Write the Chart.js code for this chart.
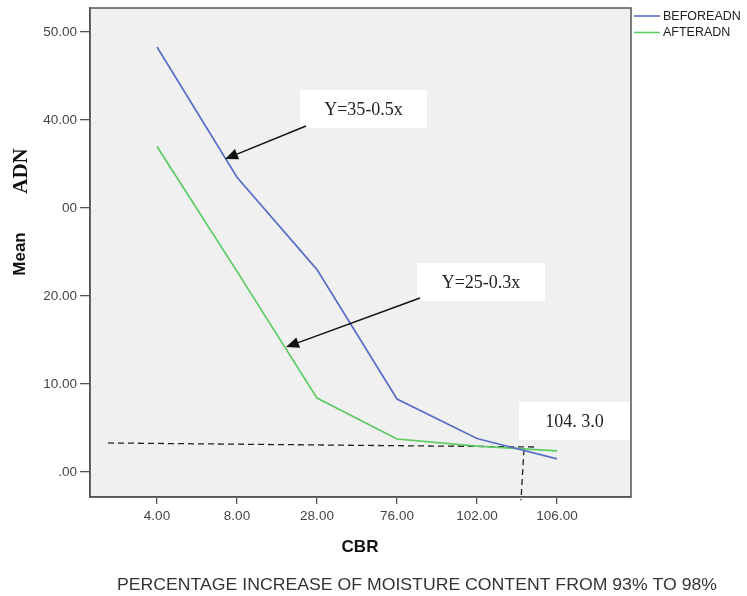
<!DOCTYPE html>
<html>
<head>
<meta charset="utf-8">
<script src="https://cdn.jsdelivr.net/npm/chart.js@4.4.1/dist/chart.umd.min.js"></script>
<style>
html,body{margin:0;padding:0;background:#fff;}
#wrap{width:747px;height:596px;position:relative;}
</style>
</head>
<body>
<div id="wrap"><canvas id="c" width="747" height="596"></canvas></div>
<script>
// ---- data ----
const categories = ['4.00', '8.00', '28.00', '76.00', '102.00', '106.00'];
const beforeADN = [48.3, 33.5, 23.0, 8.3, 3.8, 1.5];
const afterADN  = [37.0, 22.8, 8.4, 3.75, 2.95, 2.4];
const yTickValues = [0, 10, 20, 30, 40, 50];
const yTickLabels = ['.00', '10.00', '20.00', '00', '40.00', '50.00'];
// guide lines (x in category index units, y in ADN units)
const hGuideX = [-0.6125, 4.75];
const hGuideY = [3.3, 2.84];
const vGuideX = [4.5875, 4.55];
const vGuideY = [2.6, -3.2];
// annotation texts
const noteTexts = ['Y=35-0.5x', 'Y=25-0.3x', '104. 3.0'];

const xs = categories.map((_, i) => i);
const toPts = (xArr, yArr) => xArr.map((x, i) => ({x: x, y: yArr[i]}));

// annotation layout in data units
const notes = [
  {text: noteTexts[0], x1: 1.7875, x2: 3.375, y1: 43.4, y2: 39.1, ax1: 1.8625, ay1: 39.32, ax2: 0.85, ay2: 35.57},
  {text: noteTexts[1], x1: 3.25, x2: 4.85, y1: 23.75, y2: 19.43, ax1: 3.2875, ay1: 19.77, ax2: 1.6125, ay2: 14.2},
  {text: noteTexts[2], x1: 4.525, x2: 5.9125, y1: 7.95, y2: 3.64}
];

const BLUE = '#5a6ec8';
const GREEN = '#5ccb62';

function arrow(ctx, x1, y1, x2, y2) {
  ctx.save();
  ctx.strokeStyle = '#111';
  ctx.fillStyle = '#111';
  ctx.lineWidth = 1.5;
  const ang = Math.atan2(y2 - y1, x2 - x1);
  const L = 13, W = 5.5;
  const bx = x2 - L * Math.cos(ang), by = y2 - L * Math.sin(ang);
  ctx.beginPath();
  ctx.moveTo(x1, y1);
  ctx.lineTo(bx, by);
  ctx.stroke();
  ctx.beginPath();
  ctx.moveTo(x2, y2);
  ctx.lineTo(bx + W * Math.sin(ang), by - W * Math.cos(ang));
  ctx.lineTo(bx - W * Math.sin(ang), by + W * Math.cos(ang));
  ctx.closePath();
  ctx.fill();
  ctx.restore();
}

const decor = {
  id: 'decor',
  beforeDraw(chart) {
    const {ctx, chartArea: a} = chart;
    ctx.save();
    ctx.fillStyle = '#f0f0f0';
    ctx.fillRect(a.left, a.top, a.right - a.left, a.bottom - a.top);
    ctx.restore();
  },
  afterDraw(chart) {
    const {ctx, chartArea: a} = chart;
    const xS = chart.scales.x, yS = chart.scales.y;
    ctx.save();
    // frame
    ctx.strokeStyle = '#555';
    ctx.lineWidth = 1.5;
    ctx.strokeRect(a.left, a.top, a.right - a.left, a.bottom - a.top);

    // annotations
    notes.forEach(n => {
      const L = xS.getPixelForValue(n.x1), R = xS.getPixelForValue(n.x2);
      const T = yS.getPixelForValue(n.y1), B = yS.getPixelForValue(n.y2);
      ctx.fillStyle = '#ffffff';
      ctx.fillRect(L, T, R - L, B - T);
      ctx.fillStyle = '#222';
      ctx.font = '18px "Liberation Serif", "Times New Roman", serif';
      ctx.textAlign = 'center';
      ctx.textBaseline = 'middle';
      ctx.fillText(n.text, (L + R) / 2, (T + B) / 2 + 1);
      if (n.ax1 !== undefined) {
        arrow(ctx, xS.getPixelForValue(n.ax1), yS.getPixelForValue(n.ay1),
                   xS.getPixelForValue(n.ax2), yS.getPixelForValue(n.ay2));
      }
    });

    // legend
    const legend = [['BEFOREADN', BLUE], ['AFTERADN', GREEN]];
    legend.forEach((it, i) => {
      const y = 16 + i * 16.5;
      ctx.strokeStyle = it[1];
      ctx.lineWidth = 1.6;
      ctx.beginPath();
      ctx.moveTo(634, y);
      ctx.lineTo(660, y);
      ctx.stroke();
      ctx.fillStyle = '#222';
      ctx.font = '12.5px "Liberation Sans", Arial, sans-serif';
      ctx.textAlign = 'left';
      ctx.textBaseline = 'middle';
      ctx.fillText(it[0], 663, y + 0.5);
    });

    // y-axis title
    ctx.fillStyle = '#111';
    ctx.save();
    ctx.translate(20, 254);
    ctx.rotate(-Math.PI / 2);
    ctx.font = 'bold 17px "Liberation Sans", Arial, sans-serif';
    ctx.textAlign = 'center';
    ctx.textBaseline = 'middle';
    ctx.fillText('Mean', 0, 0);
    ctx.restore();
    ctx.save();
    ctx.translate(22, 171);
    ctx.rotate(-Math.PI / 2);
    ctx.font = 'bold 21px "Liberation Serif", "Times New Roman", serif';
    ctx.textAlign = 'center';
    ctx.textBaseline = 'middle';
    ctx.fillText('ADN', 0, 0);
    ctx.restore();

    // x-axis title
    ctx.font = 'bold 17px "Liberation Sans", Arial, sans-serif';
    ctx.textAlign = 'center';
    ctx.textBaseline = 'middle';
    ctx.fillText('CBR', 360, 547);

    // caption (condensed)
    const cap = 'PERCENTAGE INCREASE OF MOISTURE CONTENT FROM 93% TO 98%';
    ctx.fillStyle = '#333';
    ctx.font = '16.5px "Liberation Sans", Arial, sans-serif';
    const w = ctx.measureText(cap).width;
    const target = 600;
    ctx.save();
    ctx.translate(417, 585);
    ctx.scale(target / w, 1);
    ctx.textAlign = 'center';
    ctx.fillText(cap, 0, 0);
    ctx.restore();

    ctx.restore();
  }
};

const tickFont = {family: '"Liberation Sans", Arial, sans-serif', size: 13.5};

new Chart(document.getElementById('c'), {
  type: 'line',
  data: {
    datasets: [
      {label: 'BEFOREADN', data: toPts(xs, beforeADN), borderColor: BLUE, borderWidth: 1.7, pointRadius: 0, tension: 0, fill: false},
      {label: 'AFTERADN', data: toPts(xs, afterADN), borderColor: GREEN, borderWidth: 1.7, pointRadius: 0, tension: 0, fill: false},
      {label: 'hguide', data: toPts(hGuideX, hGuideY), borderColor: '#222', borderWidth: 1.3, borderDash: [6, 4], pointRadius: 0, fill: false, clip: false},
      {label: 'vguide', data: toPts(vGuideX, vGuideY), borderColor: '#222', borderWidth: 1.3, borderDash: [6, 4], pointRadius: 0, fill: false, clip: false}
    ]
  },
  options: {
    responsive: false,
    animation: false,
    events: [],
    layout: {padding: {top: 8, right: 116, left: 0, bottom: 0}},
    plugins: {legend: {display: false}, tooltip: {enabled: false}},
    scales: {
      x: {
        type: 'linear',
        min: -0.8375,
        max: 5.925,
        afterBuildTicks: s => { s.ticks = xs.map(v => ({value: v})); },
        afterFit: s => { s.height = 99; s.paddingLeft = 0; s.paddingRight = 0; },
        ticks: {
          callback: (v) => categories[Math.round(v)],
          font: tickFont, color: '#444', padding: 4, maxRotation: 0, autoSkip: false
        },
        grid: {display: true, drawOnChartArea: false, drawTicks: true, tickLength: 7, color: '#555', lineWidth: 1.3},
        border: {display: true, color: '#555', width: 1.5}
      },
      y: {
        type: 'linear',
        min: -2.84,
        max: 52.73,
        afterBuildTicks: s => { s.ticks = yTickValues.map(v => ({value: v})); },
        afterFit: s => { s.width = 90; s.paddingTop = 0; s.paddingBottom = 0; },
        ticks: {
          callback: (v, i) => yTickLabels[i],
          font: tickFont, color: '#444', padding: 3
        },
        grid: {display: true, drawOnChartArea: false, drawTicks: true, tickLength: 10, color: '#555', lineWidth: 1.3},
        border: {display: true, color: '#555', width: 1.5}
      }
    }
  },
  plugins: [decor]
});
</script>
</body>
</html>
